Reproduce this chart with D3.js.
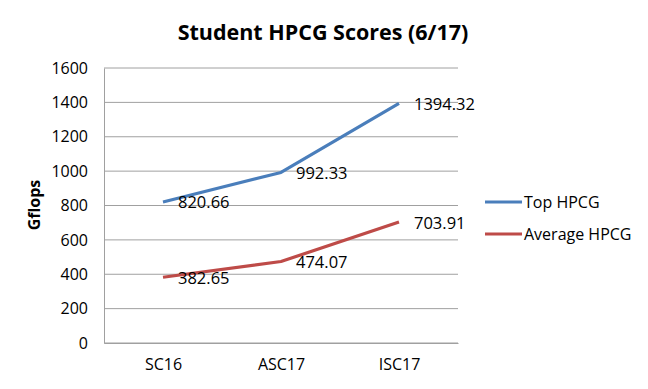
<!DOCTYPE html>
<html>
<head>
<meta charset="utf-8">
<script src="https://cdn.jsdelivr.net/npm/d3@7"></script>
<style>
  body { margin: 0; background: #fff; }
  text { font-family: "Open Sans", sans-serif; fill: #000; }
</style>
</head>
<body>
<script>
// chart data
let categories = ["SC16", "ASC17", "ISC17"];
let topHpcg = [820.66, 992.33, 1394.32];
let avgHpcg = [382.65, 474.07, 703.91];
let seriesNames = ["Top HPCG", "Average HPCG"];
let yTicks = [0, 200, 400, 600, 800, 1000, 1200, 1400, 1600];

let width = 648, height = 389;
let plotLeft = 104, plotRight = 458, plotTop = 68, plotBottom = 343;
let colors = ["#4a7ebb", "#be4b48"];

let svg = d3.select("body").append("svg")
  .attr("width", width).attr("height", height);

let x = d3.scalePoint().domain(categories).range([plotLeft, plotRight]).padding(0.5);
let y = d3.scaleLinear().domain([0, 1600]).range([plotBottom, plotTop]);

// title
svg.append("text")
  .attr("x", 323).attr("y", 40)
  .attr("text-anchor", "middle")
  .attr("font-size", 21.5).attr("font-weight", "bold")
  .text("Student HPCG Scores (6/17)");

// gridlines
svg.append("g").selectAll("line")
  .data(yTicks)
  .enter().append("line")
  .attr("x1", plotLeft).attr("x2", plotRight)
  .attr("y1", d => y(d)).attr("y2", d => y(d))
  .attr("stroke", "#a0a0a0").attr("stroke-width", 1)

// y axis
let yAxis = svg.append("g")
  .attr("transform", "translate(" + plotLeft + ",0)")
  .call(d3.axisLeft(y).tickValues(yTicks).tickFormat(d3.format("d")).tickSize(0).tickPadding(16))
yAxis.select(".domain").attr("stroke", "#a0a0a0")
yAxis.selectAll("text").attr("font-size", 16).attr("font-family", "Open Sans")

// x axis
let xAxis = svg.append("g")
  .attr("transform", "translate(0," + plotBottom + ")")
  .call(d3.axisBottom(x).tickSize(0).tickPadding(16))
xAxis.select(".domain").attr("stroke", "#a0a0a0")
xAxis.selectAll("text").attr("font-size", 16).attr("font-family", "Open Sans")

// y title
svg.append("text")
  .attr("transform", "translate(40,205) rotate(-90)")
  .attr("text-anchor", "middle")
  .attr("font-size", 16).attr("font-weight", "bold")
  .text("Gflops");

let line = d3.line().x((d, i) => x(categories[i])).y(d => y(d));
let allSeries = [topHpcg, avgHpcg];

allSeries.forEach(function(vals, k) {
  svg.append("path")
    .datum(vals)
    .attr("d", line)
    .attr("fill", "none")
    .attr("stroke", colors[k])
    .attr("stroke-width", 3.2)
    .attr("stroke-linejoin", "round");

  svg.append("g").selectAll("text")
    .data(vals)
    .enter().append("text")
    .attr("x", (d, i) => x(categories[i]) + 15)
    .attr("y", d => y(d))
    .attr("dominant-baseline", "central")
    .attr("font-size", 16.5)
    .text(d => d.toFixed(2));
});

// legend
let legend = svg.append("g").selectAll("g")
  .data(seriesNames)
  .enter().append("g")
  .attr("transform", (d, i) => "translate(485," + (202 + i * 32) + ")");
legend.append("line")
  .attr("x1", 0).attr("x2", 37)
  .attr("stroke", (d, i) => colors[i]).attr("stroke-width", 3.2);
legend.append("text")
  .attr("x", 39).attr("dominant-baseline", "central")
  .attr("font-size", 16)
  .text(d => d);
</script>
</body>
</html>
